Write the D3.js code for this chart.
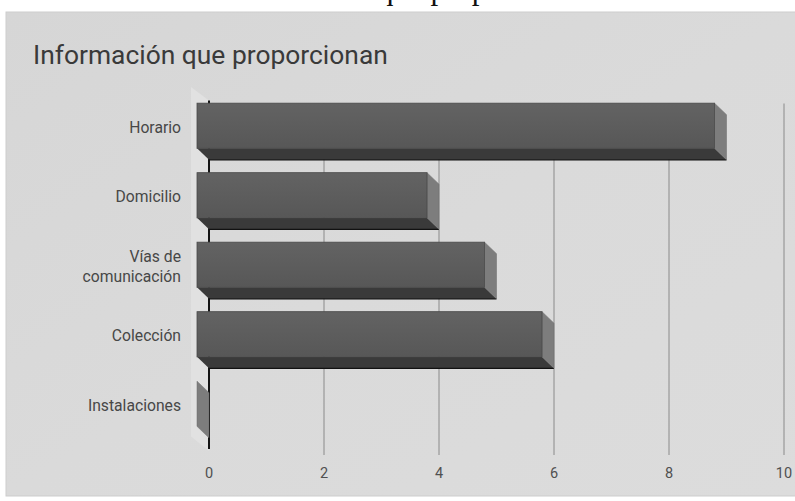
<!DOCTYPE html>
<html>
<head>
<meta charset="utf-8">
<script src="https://cdn.jsdelivr.net/npm/d3@7"></script>
<style>
  html, body { margin: 0; padding: 0; background: #ffffff; }
  svg { display: block; }
</style>
</head>
<body>
<svg id="chart" width="795" height="501"></svg>
<script>
const pageHeading = "Información que proporcionan";
const chartTitle = "Información que proporcionan";
const categories = ["Horario", "Domicilio", "Vías de comunicación", "Colección", "Instalaciones"];
const categoryLines = [["Horario"], ["Domicilio"], ["Vías de", "comunicación"], ["Colección"], ["Instalaciones"]];
const values = [9, 4, 5, 6, 0];
const tickValues = [0, 2, 4, 6, 8, 10];

const svg = d3.select("#chart");

// defs
const defs = svg.append("defs");
const bg = defs.append("linearGradient").attr("id", "bgGrad").attr("x1", 0).attr("y1", 0).attr("x2", 1).attr("y2", 1);
bg.append("stop").attr("offset", "0%").attr("stop-color", "#d6d6d6");
bg.append("stop").attr("offset", "50%").attr("stop-color", "#dadada");
bg.append("stop").attr("offset", "100%").attr("stop-color", "#dcdcdc");
const fg = defs.append("linearGradient").attr("id", "frontGrad").attr("x1", 0).attr("y1", 0).attr("x2", 0).attr("y2", 1);
fg.append("stop").attr("offset", "0%").attr("stop-color", "#636363");
fg.append("stop").attr("offset", "100%").attr("stop-color", "#575757");

// page heading (cut off at the top edge in the reference; only descenders show)
svg.append("text")
  .attr("x", 217).attr("y", -1.5)
  .attr("font-family", "'Liberation Serif', 'DejaVu Serif', serif")
  .attr("font-size", 31)
  .attr("fill", "#111")
  .text(pageHeading);

// card
svg.append("rect")
  .attr("x", 6).attr("y", 12).attr("width", 795).attr("height", 484)
  .attr("fill", "url(#bgGrad)").attr("stroke", "#cdcdcd").attr("stroke-width", 1);

// title
svg.append("text")
  .attr("x", 33).attr("y", 64)
  .attr("font-family", "Roboto, sans-serif")
  .attr("font-size", 26.4)
  .attr("fill", "#3a3a3a")
  .text(chartTitle);

const dx = 12, dy = 11.5;
const x = d3.scaleLinear().domain([0, 10]).range([209, 784]);
const y = d3.scaleBand().domain(categories).range([91, 438.5]).paddingInner(0.35).paddingOuter(0.175);
const bw = y.bandwidth();

const plotTop = y.range()[0];
const plotBottom = y.range()[1];

// left wall
svg.append("path")
  .attr("d", d3.line()([
    [x(0) - dx - 6, plotTop - 4],
    [x(0), plotTop + dy - 2],
    [x(0), plotBottom + dy + 1],
    [x(0) - dx - 6, plotBottom - 2]
  ]) + "Z")
  .attr("fill", "#e1e1e1");

// gridlines
svg.append("g").selectAll("line")
  .data(tickValues.filter(t => t !== 0))
  .join("line")
  .attr("x1", d => x(d)).attr("x2", d => x(d))
  .attr("y1", plotTop + dy + 1).attr("y2", 455)
  .attr("stroke", "#8a8a8a").attr("stroke-width", 1);

// zero axis line
svg.append("line")
  .attr("x1", x(0)).attr("x2", x(0))
  .attr("y1", plotTop + dy - 2).attr("y2", 449)
  .attr("stroke", "#151515").attr("stroke-width", 2);

// tick labels
svg.append("g").selectAll("text")
  .data(tickValues)
  .join("text")
  .attr("x", d => x(d)).attr("y", 478)
  .attr("text-anchor", "middle")
  .attr("font-family", "Roboto, sans-serif")
  .attr("font-size", 14.5)
  .attr("fill", "#505050")
  .text(d => d);

// bars
const bars = svg.append("g").selectAll("g")
  .data(categories.map((c, i) => ({ c, v: values[i] })))
  .join("g");

bars.each(function(d) {
  const g = d3.select(this);
  const by = y(d.c);
  const x0 = x(0), x1 = x(d.v);
  // bottom face
  g.append("path")
    .attr("d", d3.line()([
      [x0 - dx, by + bw], [x1 - dx, by + bw], [x1, by + bw + dy], [x0, by + bw + dy]
    ]) + "Z")
    .attr("fill", "#3a3a3a");
  g.append("line")
    .attr("x1", x0).attr("x2", x1)
    .attr("y1", by + bw + dy).attr("y2", by + bw + dy)
    .attr("stroke", "#111").attr("stroke-width", 1.2);
  // right face
  g.append("path")
    .attr("d", d3.line()([
      [x1 - dx, by], [x1, by + dy], [x1, by + bw + dy], [x1 - dx, by + bw]
    ]) + "Z")
    .attr("fill", "#7d7d7d").attr("stroke", "#6a6a6a").attr("stroke-width", 0.5);
  // front face
  if (x1 - x0 > 0) {
    g.append("rect")
      .attr("x", x0 - dx).attr("y", by)
      .attr("width", x1 - x0).attr("height", bw)
      .attr("fill", "url(#frontGrad)")
      .attr("stroke", "#4a4a4a").attr("stroke-width", 0.8);
  }
});

// category labels
const labels = svg.append("g").selectAll("text")
  .data(categories.map((c, i) => ({ c, lines: categoryLines[i] })))
  .join("text")
  .attr("text-anchor", "end")
  .attr("font-family", "Roboto, sans-serif")
  .attr("font-size", 15.7)
  .attr("fill", "#474747");

labels.each(function(d) {
  const t = d3.select(this);
  const cy = y(d.c) + bw / 2 + 1.5;
  const n = d.lines.length;
  d.lines.forEach((ln, j) => {
    t.append("tspan")
      .attr("x", 181)
      .attr("y", cy + (j - (n - 1) / 2) * 20 + 5.5)
      .text(ln);
  });
});
</script>
</body>
</html>
